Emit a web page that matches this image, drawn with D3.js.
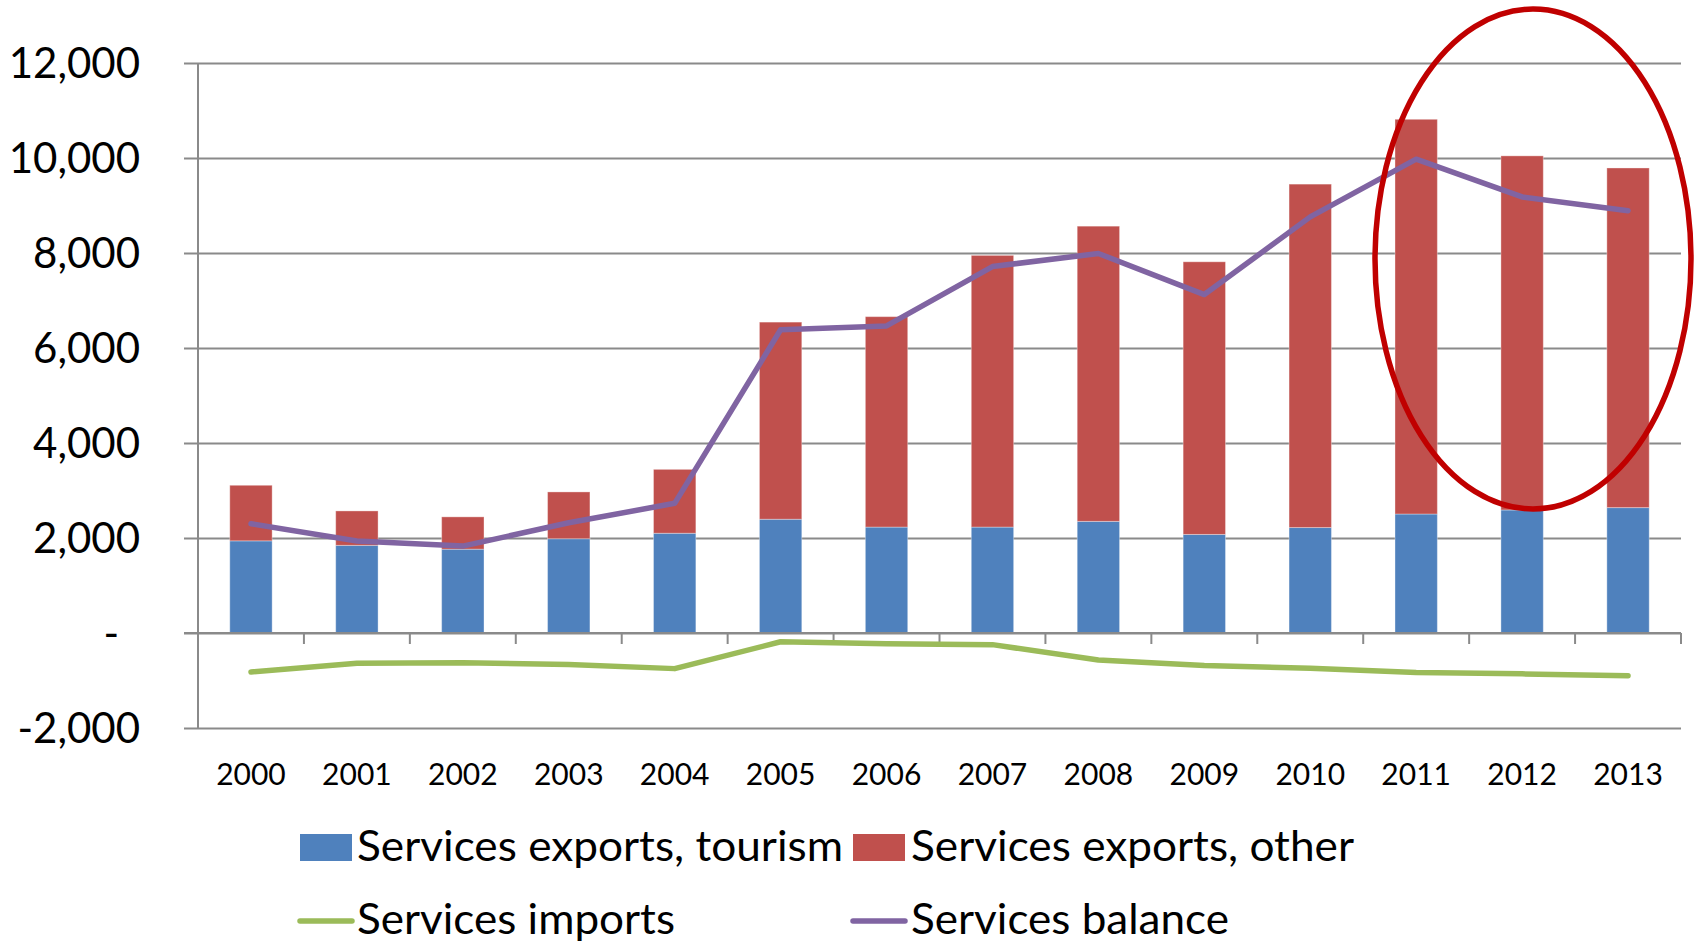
<!DOCTYPE html>
<html>
<head>
<meta charset="utf-8">
<script src="https://cdn.jsdelivr.net/npm/d3@7"></script>
<style>
  html, body { margin: 0; padding: 0; background: #fff; }
  svg { display: block; }
  text { font-family: Lato, "Open Sans", "Liberation Sans", sans-serif; fill: #000; }
</style>
</head>
<body>
<svg id="chart" width="1694" height="944"></svg>
<script>
// ---- data ----
const years = ["2000","2001","2002","2003","2004","2005","2006","2007","2008","2009","2010","2011","2012","2013"];
const exportsTourism = [1940, 1845, 1765, 1985, 2100, 2395, 2230, 2230, 2350, 2075, 2220, 2505, 2590, 2640];
const exportsOther   = [1170, 725, 680, 985, 1345, 4150, 4430, 5720, 6215, 5740, 7230, 8310, 7455, 7150];
const servicesImports = [-820, -635, -625, -665, -750, -185, -225, -245, -570, -685, -740, -830, -860, -900];
const servicesBalance = [2300, 1935, 1830, 2320, 2730, 6385, 6465, 7715, 7990, 7125, 8760, 9975, 9180, 8890];
const yTicks = [-2000, 0, 2000, 4000, 6000, 8000, 10000, 12000];
const seriesNames = ["Services exports, tourism", "Services exports, other", "Services imports", "Services balance"];

// ---- styles ----
const colors = { tourism: "#4f81bd", other: "#c0504d", imports: "#9bbb59", balance: "#8064a2", ring: "#c00000", grid: "#8a8a8a" };

const svg = d3.select("#chart");
const plot = { left: 198, right: 1681, top: 63, bottom: 728 };

const x = d3.scaleBand().domain(years).range([plot.left, plot.right]).padding(0);
const y = d3.scaleLinear().domain([-2000, 12000]).range([plot.bottom, plot.top]);
const barW = x.bandwidth() * 0.4;

// gridlines (y axis with long ticks)
const yAxis = d3.axisLeft(y).tickValues(yTicks).tickSize(-(plot.right - plot.left)).tickFormat("");
const gy = svg.append("g").attr("transform", `translate(${plot.left},0)`).call(yAxis);
gy.select(".domain").remove();
gy.selectAll(".tick line").attr("stroke", colors.grid).attr("stroke-width", 2).attr("x1", -14);

// y axis line
svg.append("line").attr("x1", plot.left).attr("x2", plot.left).attr("y1", y(12000)).attr("y2", y(-2000))
  .attr("stroke", colors.grid).attr("stroke-width", 2);

// y labels
const fmt = d3.format(",");
svg.append("g").selectAll("text").data(yTicks).join("text")
  .attr("x", d => d === 0 ? 119 : 140)
  .attr("y", d => y(d))
  .attr("dy", "0.36em")
  .attr("text-anchor", "end")
  .style("font-size", "42px")
  .text(d => d === 0 ? "-" : fmt(d).replace("\u2212", "-"));

// bars
const stackData = years.map((yr, i) => ({ year: yr, tourism: exportsTourism[i], other: exportsOther[i] }));
const stack = d3.stack().keys(["tourism", "other"])(stackData);
svg.append("g").selectAll("g").data(stack).join("g")
  .attr("fill", d => colors[d.key])
  .selectAll("rect").data(d => d).join("rect")
  .attr("x", d => x(d.data.year) + (x.bandwidth() - barW) / 2)
  .attr("width", barW)
  .attr("y", d => y(d[1]))
  .attr("height", d => y(d[0]) - y(d[1]))
  .attr("stroke", "rgba(255,255,255,0.35)")
  .attr("stroke-width", 1);

// x axis at zero with ticks down at category boundaries
svg.append("line").attr("x1", plot.left - 14).attr("x2", plot.right).attr("y1", y(0)).attr("y2", y(0))
  .attr("stroke", colors.grid).attr("stroke-width", 2);
const bounds = years.map(yr => x(yr)).concat([plot.right]).slice(1);
svg.append("g").selectAll("line").data(bounds).join("line")
  .attr("x1", d => d).attr("x2", d => d)
  .attr("y1", y(0)).attr("y2", y(0) + 11)
  .attr("stroke", colors.grid).attr("stroke-width", 2);

// x labels
svg.append("g").selectAll("text").data(years).join("text")
  .attr("x", d => x(d) + x.bandwidth() / 2)
  .attr("y", 785)
  .attr("text-anchor", "middle")
  .style("font-size", "30px")
  .text(d => d);

// lines
const line = d3.line().x((d, i) => x(years[i]) + x.bandwidth() / 2).y(d => y(d));
svg.append("path").datum(servicesImports).attr("d", line)
  .attr("fill", "none").attr("stroke", colors.imports).attr("stroke-width", 5.5)
  .attr("stroke-linejoin", "round").attr("stroke-linecap", "round");
svg.append("path").datum(servicesBalance).attr("d", line)
  .attr("fill", "none").attr("stroke", colors.balance).attr("stroke-width", 5.5)
  .attr("stroke-linejoin", "round").attr("stroke-linecap", "round");

// highlight ellipse
svg.append("ellipse").attr("cx", 1533).attr("cy", 259).attr("rx", 158).attr("ry", 250)
  .attr("fill", "none").attr("stroke", colors.ring).attr("stroke-width", 5.5);

// legend
const legendItems = [
  { name: seriesNames[0], type: "rect", color: colors.tourism, sx: 300, tx: 357, w: 486, base: 861 },
  { name: seriesNames[1], type: "rect", color: colors.other,   sx: 853, tx: 911, w: 443, base: 861 },
  { name: seriesNames[2], type: "line", color: colors.imports, sx: 300, tx: 357, w: 318, base: 934 },
  { name: seriesNames[3], type: "line", color: colors.balance, sx: 853, tx: 911, w: 318, base: 934 }
];
const lg = svg.append("g");
legendItems.forEach(it => {
  if (it.type === "rect") {
    lg.append("rect").attr("x", it.sx).attr("y", it.base - 27).attr("width", 52).attr("height", 27).attr("fill", it.color);
  } else {
    lg.append("line").attr("x1", it.sx).attr("x2", it.sx + 52).attr("y1", it.base - 13).attr("y2", it.base - 13)
      .attr("stroke", it.color).attr("stroke-width", 5.5).attr("stroke-linecap", "round");
  }
  lg.append("text").attr("x", it.tx).attr("y", it.base)
    .style("font-size", "43px")
    .attr("textLength", it.w).attr("lengthAdjust", "spacingAndGlyphs")
    .text(it.name);
});
</script>
</body>
</html>
